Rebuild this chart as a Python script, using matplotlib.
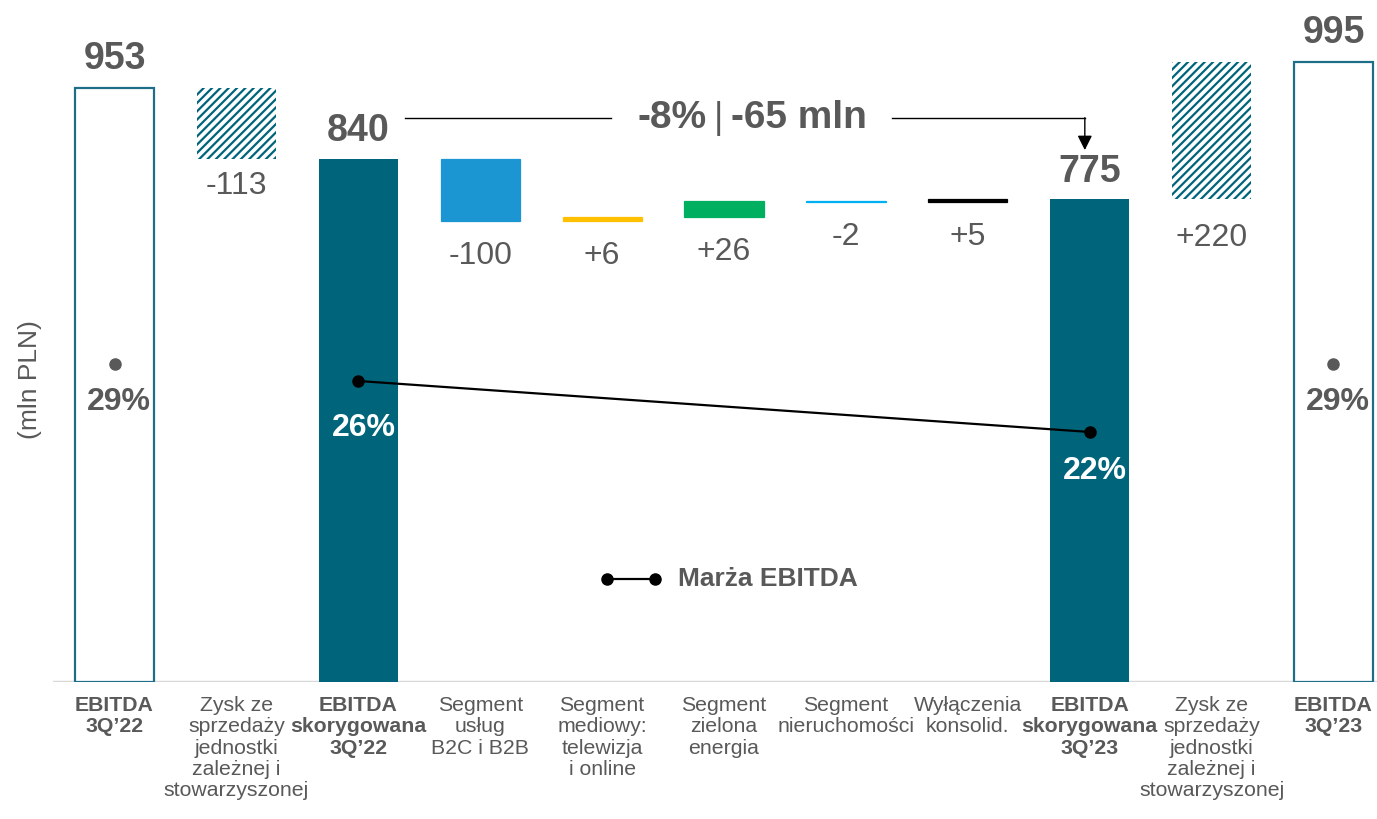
import numpy as np
import matplotlib.pyplot as plt

plt.rcParams['font.family'] = ['Liberation Sans', 'DejaVu Sans']
plt.rcParams['hatch.linewidth'] = 1.6

categories = ['EBITDA\n3Q\u201922', 'Zysk ze\nsprzeda\u017cy\njednostki\nzale\u017cnej i\nstowarzyszonej',
              'EBITDA\nskorygowana\n3Q\u201922', 'Segment\nus\u0142ug\nB2C i B2B',
              'Segment\nmediowy:\ntelewizja\ni online', 'Segment\nzielona\nenergia',
              'Segment\nnieruchomo\u015bci', 'Wy\u0142\u0105czenia\nkonsolid.',
              'EBITDA\nskorygowana\n3Q\u201923', 'Zysk ze\nsprzeda\u017cy\njednostki\nzale\u017cnej i\nstowarzyszonej',
              'EBITDA\n3Q\u201923']
bold_ticks = [0, 2, 8, 10]

ebitda_3q22 = 953
adjusted_3q22 = 840
adjusted_3q23 = 775
ebitda_3q23 = 995
one_off_22 = -113
segment_changes = [-100, 6, 26, -2, 5]
one_off_23 = 220

margin_reported = [29, 29]
margin_adjusted = [26, 22]
change_pct = -8
change_abs = -65

GRAY = '#595959'
TEAL = '#00657A'
OUTLINE = '#1E6E88'
seg_colors = ['#1B96D3', '#FFC000', '#00B060', '#00B0F0', '#000000']

fig = plt.figure(figsize=(13.77, 8.19), dpi=100)
ax = fig.add_axes([53 / 1377, 137 / 819, 1324 / 1377, 682 / 819])
ax.set_xlim(-0.505, 10.357)
ax.set_ylim(0, 1095)
w = 0.65

# totals: reported EBITDA as outlines, adjusted EBITDA filled
for i, v in [(0, ebitda_3q22), (10, ebitda_3q23)]:
    ax.bar(i, v, w, facecolor='white', edgecolor=OUTLINE, linewidth=1.6, zorder=2)
    ax.annotate(str(v), (i, v), xytext=(0, 8), textcoords='offset points',
                ha='center', va='bottom', fontsize=27, fontweight='bold', color=GRAY)
for i, v in [(2, adjusted_3q22), (8, adjusted_3q23)]:
    ax.bar(i, v, w, color=TEAL, zorder=2)
    ax.annotate(str(v), (i, v), xytext=(0, 7), textcoords='offset points',
                ha='center', va='bottom', fontsize=27, fontweight='bold', color=GRAY)

# one-off items (hatched)
for i, base, d, off in [(1, ebitda_3q22, one_off_22, -9), (9, adjusted_3q23, one_off_23, -17)]:
    lo = min(base, base + d)
    ax.bar(i, abs(d), w, bottom=lo, facecolor='white', edgecolor=TEAL, hatch='////',
           linewidth=0, zorder=2)
    ax.annotate(f'{d:+d}', (i, lo), xytext=(0, off), textcoords='offset points',
                ha='center', va='top', fontsize=23, color=GRAY)

# segment bridge
level = adjusted_3q22
for k, d in enumerate(segment_changes):
    i = 3 + k
    lo = min(level, level + d)
    ax.bar(i, abs(d), w, bottom=lo, color=seg_colors[k], edgecolor=seg_colors[k],
           linewidth=0.9, zorder=2)
    ax.annotate(f'{d:+d}', (i, lo), xytext=(0, -14), textcoords='offset points',
                ha='center', va='top', fontsize=23, color=GRAY)
    level += d

# EBITDA margin
ax2 = ax.twinx()
ax2.set_ylim(2.39, 55.88)
ax2.plot([2, 8], margin_adjusted, color='black', lw=1.6, marker='o', ms=8, zorder=3)
for i, m, off in zip([2, 8], margin_adjusted, [-34, -28]):
    ax2.annotate(f'{m}%', (i, m), xytext=(4, off), textcoords='offset points',
                 ha='center', va='center', fontsize=23, fontweight='bold', color='white')
ax3 = ax.twinx()
ax3.set_ylim(4.06, 57.55)
ax3.plot([0, 10], margin_reported, ls='none', marker='o', ms=8, color=GRAY)
for i, m in zip([0, 10], margin_reported):
    ax3.annotate(f'{m}%', (i, m), xytext=(3, -27), textcoords='offset points',
                 ha='center', va='center', fontsize=23, fontweight='bold', color=GRAY)

# bracket showing the change in adjusted EBITDA
top = 905
ax.plot([2 + w / 2 + 0.06, 4.07], [top, top], color='black', lw=1)
ax.plot([6.38, 7.96], [top, top], color='black', lw=1)
ax.annotate('', xy=(7.96, 854), xytext=(7.96, top + 1),
            arrowprops=dict(arrowstyle='-|>', color='black', lw=1, mutation_scale=22,
                            shrinkA=0, shrinkB=0))
ax.text(4.86, top, f'{change_pct}%', ha='right', va='center', fontsize=28,
        fontweight='bold', color=GRAY)
ax.text(4.955, top, '|', ha='center', va='center', fontsize=26, color=GRAY)
ax.text(5.06, top, f'{change_abs} mln', ha='left', va='center', fontsize=28,
        fontweight='bold', color=GRAY)

# legend for margin line
ax.plot([4.04, 4.43], [165, 165], color='black', lw=1.6, marker='o', ms=8)
ax.text(4.62, 165, 'Mar\u017ca EBITDA', ha='left', va='center', fontsize=19,
        fontweight='bold', color=GRAY)

ax.axhline(0, color='#D9D9D9', lw=2.5, zorder=1)
for a in (ax, ax2, ax3):
    for s in a.spines.values():
        s.set_visible(False)
ax2.set_yticks([])
ax3.set_yticks([])
ax.set_yticks([])
ax.set_xticks(range(len(categories)))
ax.set_xticklabels(categories, fontsize=15.3, color=GRAY, linespacing=1.16)
ax.tick_params(axis='x', length=0, pad=10)
for k, t in enumerate(ax.get_xticklabels()):
    if k in bold_ticks:
        t.set_fontweight('bold')

fig.text(30 / 1377, 1 - 380 / 819, '(mln PLN)', rotation=90, ha='center', va='center',
         fontsize=19, color=GRAY)

fig.savefig('out.png', dpi=100)
